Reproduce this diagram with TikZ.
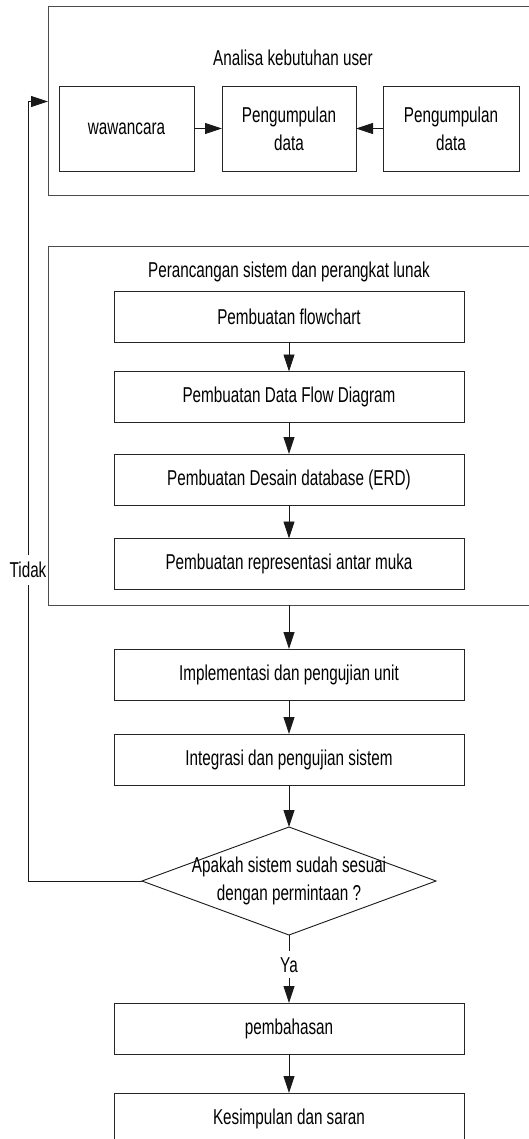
\documentclass[tikz,border=0pt]{standalone}
\usepackage{fontspec}
\setmainfont{Liberation Sans}[FakeStretch=0.71]
\usetikzlibrary{arrows.meta,shapes.geometric}
\tikzset{
  every node/.style={font=\fontsize{21.5}{28}\selectfont, text=black},
  procbox/.style={draw=black!85, line width=0.9pt, rectangle, inner sep=0pt, outer sep=0pt, minimum width=350pt, minimum height=51pt},
  smallbox/.style={draw=black!85, line width=0.9pt, rectangle, inner sep=0pt, outer sep=0pt, minimum height=85pt, align=center},
  groupbox/.style={draw=black!70, line width=1pt, rectangle, inner sep=0pt, outer sep=0pt, anchor=north west},
  decision/.style={draw=black!90, line width=0.9pt, shape=diamond, inner sep=0pt, outer sep=0pt, minimum width=294pt, minimum height=108pt},
  arr/.style={draw=black!90, line width=0.9pt, -{Triangle[length=17pt,width=11pt]}},
  plain/.style={draw=black!90, line width=0.9pt}
}
\begin{document}
\begin{tikzpicture}[x=1pt,y=-1pt]
\path[use as bounding box] (0,0) rectangle (529,1139);
\clip (0,0) rectangle (529,1139);
% group boxes
\node[groupbox, minimum width=492pt, minimum height=189pt] (grpA) at (48,7) {};
\node[groupbox, minimum width=492pt, minimum height=358pt] (grpB) at (48,247) {};
\node (titleA) at (293,58) {Analisa kebutuhan user};
\node (titleB) at (289,272) {Perancangan sistem dan perangkat lunak};
% top row
\node[smallbox, minimum width=135pt] (waw) at (126.5,128.5) {wawancara};
\node[smallbox, minimum width=134pt] (pd1) at (289,128.5) {Pengumpulan\\data};
\node[smallbox, minimum width=136pt] (pd2) at (451,128.5) {Pengumpulan\\data};
\draw[arr] (waw.east) -- (pd1.west);
\draw[arr] (pd2.west) -- (pd1.east);
% design steps
\node[procbox] (flow) at (289,316.5) {Pembuatan flowchart};
\node[procbox] (dfd) at (289,397) {Pembuatan Data Flow Diagram};
\node[procbox] (erd) at (289,479.5) {Pembuatan Desain database (ERD)};
\node[procbox] (rep) at (289,564) {Pembuatan representasi antar muka};
\draw[arr] (flow.south) -- (dfd.north);
\draw[arr] (dfd.south) -- (erd.north);
\draw[arr] (erd.south) -- (rep.north);
% following steps
\coordinate (grpBbot) at (289,605);
\node[procbox] (impl) at (289,674.5) {Implementasi dan pengujian unit};
\node[procbox] (integ) at (289,759.5) {Integrasi dan pengujian sistem};
\draw[arr] (grpBbot) -- (impl.north);
\draw[arr] (impl.south) -- (integ.north);
\node[decision] (dia) at (289,881) {};
\node[align=center] (diatext) at (dia.center) {Apakah sistem sudah sesuai\\dengan permintaan ?};
\draw[arr] (integ.south) -- (dia.north);
\node[procbox] (pemb) at (289,1028.5) {pembahasan};
\node[procbox] (kes) at (289,1118.5) {Kesimpulan dan saran};
\draw[arr] (dia.south) -- node[pos=0.44, fill=white, inner xsep=4pt, inner ysep=6pt] (ya) {Ya} (pemb.north);
\draw[arr] (pemb.south) -- (kes.north);
% feedback loop
\node[inner xsep=0pt, inner ysep=6.5pt] (tidak) at (28,570) {Tidak};
\draw[plain] (dia.west) -| (tidak.south);
\draw[arr] (tidak.north) |- (grpA.west);
\end{tikzpicture}
\end{document}
